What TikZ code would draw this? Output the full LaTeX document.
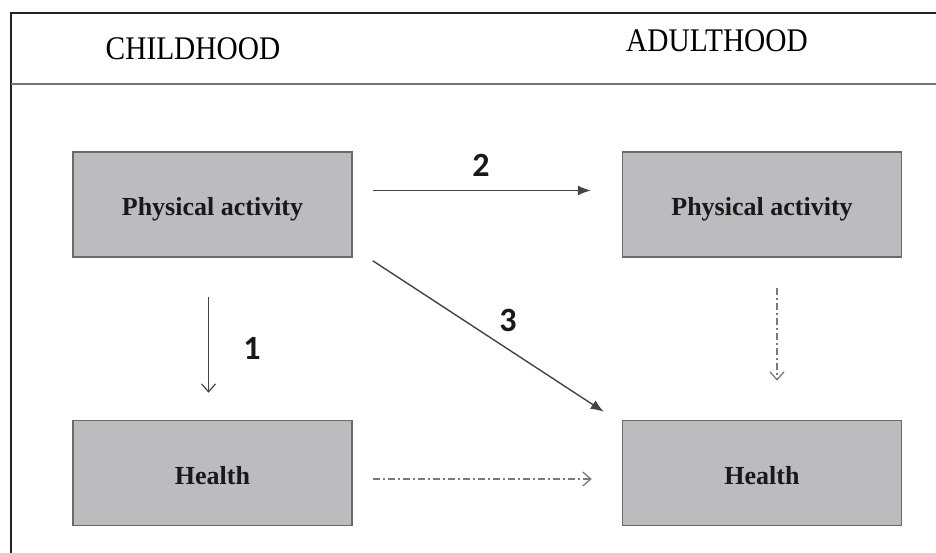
\documentclass[tikz,border=0pt]{standalone}
\usepackage{fontspec}
\setmainfont{Liberation Serif}
\newfontfamily\numfont{Carlito}
\usetikzlibrary{arrows.meta}
\definecolor{boxfill}{HTML}{BCBCBE}
\definecolor{boxline}{HTML}{6A6A6A}
\definecolor{frameline}{HTML}{222222}
\definecolor{arrowline}{HTML}{444444}
\definecolor{dashline}{HTML}{7A7A7A}
\newcommand{\boxtext}[1]{\raisebox{-11pt}[0pt][0pt]{#1}}
\tikzset{
  stagebox/.style={draw=boxline, line width=1.5pt, fill=boxfill,
    minimum width=279pt, minimum height=105pt, inner sep=0pt,
    font=\fontsize{26}{30}\selectfont\bfseries, text=black!90},
  header/.style={font=\fontsize{33}{38}\selectfont, text=black, inner sep=0pt, xscale=0.89},
  pathnum/.style={font=\numfont\fontsize{34}{40}\selectfont\bfseries, text=black!90, inner sep=0pt},
  solidarrow/.style={draw=arrowline, line width=1.4pt, -{Latex[length=13pt,width=10pt]}},
  openarrow/.style={draw=arrowline, line width=1.2pt, -{Straight Barb[length=8pt,width=14pt]}},
  dashdotarrow/.style={draw=dashline, line width=1.3pt,
    dash pattern=on 7pt off 3pt on 2pt off 3pt, -{Straight Barb[length=8pt,width=14pt]}}
}
\begin{document}
\begin{tikzpicture}[x=1pt, y=-1pt]
  \useasboundingbox (0,0) rectangle (936,553);
  % frame and header band
  \draw[frameline, line width=2.5pt] (9.5,13) -- (936,13);
  \draw[frameline, line width=2.5pt] (11,12) -- (11,553);
  \draw[black!55, line width=2pt] (11,84) -- (936,84);
  \node[header] (hchild) at (193,49) {CHILDHOOD};
  \node[header] (hadult) at (717,41) {ADULTHOOD};
  % boxes
  \node[stagebox] (cpa) at (212.5,204.5) {\boxtext{Physical activity}};
  \node[stagebox] (apa) at (762,204.5) {\boxtext{Physical activity}};
  \node[stagebox] (ch)  at (212.5,473) {\boxtext{Health}};
  \node[stagebox] (ah)  at (762,473) {\boxtext{Health}};
  % pathways
  \draw[openarrow] ([shift={(-4,39)}]cpa.south) -- ([shift={(-4,-27)}]ch.north);
  \draw[solidarrow] ([shift={(20,-14)}]cpa.east) -- ([shift={(-31,-14)}]apa.west);
  \draw[solidarrow] ([shift={(20,3)}]cpa.south east) -- ([shift={(-18,-8)}]ah.north west);
  \draw[dashdotarrow] ([shift={(20,6)}]ch.east) -- ([shift={(-30,6)}]ah.west);
  \draw[dashdotarrow] ([shift={(15,30)}]apa.south) -- ([shift={(15,-39)}]ah.north);
  % pathway numbers
  \node[pathnum] (n1) at (252,348) {1};
  \node[pathnum] (n2) at (481,165) {2};
  \node[pathnum] (n3) at (508,320) {3};
\end{tikzpicture}
\end{document}
